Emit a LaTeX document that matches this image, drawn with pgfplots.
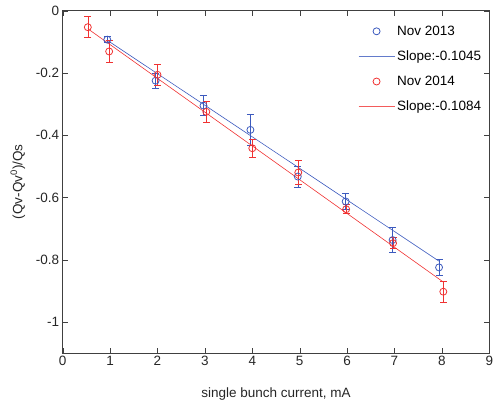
\documentclass[border=0pt]{standalone}
\usepackage{pgfplots}
\usepackage{pgfplotstable}
\pgfplotsset{compat=1.18}
\usepackage{fontspec}
\setmainfont{Liberation Sans}
\definecolor{mblue}{RGB}{60,90,190}
\definecolor{mred}{RGB}{240,50,50}
\pgfplotstableread{
x y e
0.94 -0.093 0.010
1.96 -0.225 0.025
2.97 -0.305 0.033
3.96 -0.383 0.050
4.96 -0.533 0.034
5.97 -0.613 0.025
6.96 -0.737 0.040
7.94 -0.825 0.025
}\blue
\pgfplotstableread{
x y e
0.53 -0.053 0.034
0.98 -0.131 0.034
2.00 -0.206 0.034
3.03 -0.325 0.033
4.00 -0.442 0.030
4.97 -0.520 0.038
5.98 -0.638 0.015
6.97 -0.747 0.018
8.03 -0.903 0.033
}\red
\pgfplotsset{
  markleg/.style={legend image code/.code={\draw[##1] plot coordinates {(18pt,0pt)};}},
  lineleg/.style={legend image code/.code={\draw[##1] (0pt,0pt) -- (36pt,0pt);}},
}
\begin{document}
\begin{tikzpicture}
\begin{axis}[
  scale only axis, width=426.6pt, height=342.3pt,
  at={(0,0)}, anchor=south west,
  xmin=0, xmax=9, ymin=-1.1, ymax=0,
  xtick={0,...,9}, ytick={-1,-0.8,-0.6,-0.4,-0.2,0},
  tick align=inside, major tick length=5pt,
  axis line style={black!75}, tick style={black!75},
  font=\fontsize{13.5}{15}\selectfont,
  tick label style={black!85},
  /pgf/number format/assume math mode=true,
  yticklabel style={/pgf/number format/fixed},
  xlabel={single bunch current, mA},
  ylabel={(Qv-Qv\textsuperscript{0})/Qs},
  xlabel style={at={(axis description cs:0.5,-0.121)}, anchor=center, black!85},
  ylabel style={at={(axis description cs:-0.105,0.5)}, anchor=center, black!85},
  legend style={draw=none, fill=none, at={(axis description cs:0.685,0.968)}, anchor=north west,
    font=\fontsize{13.5}{15}\selectfont, row sep=10pt},
  legend cell align=left,
]
\addplot[mblue, only marks, mark=o, mark size=3.5pt, line width=0.8pt, forget plot,
  error bars/.cd, y dir=both, y explicit,
  error mark options={rotate=90, mark size=3.5pt, line width=0.8pt, mblue}]
  table[x=x, y=y, y error=e] {\blue};
\addplot[color=mblue, line width=0.6pt, forget plot] coordinates {(0.94,-0.095) (7.94,-0.805)};
\addplot[mred, only marks, mark=o, mark size=3.5pt, line width=0.8pt, forget plot,
  error bars/.cd, y dir=both, y explicit,
  error mark options={rotate=90, mark size=3.5pt, line width=0.8pt, mred}]
  table[x=x, y=y, y error=e] {\red};
\addplot[color=mred, line width=0.6pt, forget plot] coordinates {(0.53,-0.058) (8.03,-0.872)};
\addlegendimage{mblue, only marks, mark=o, mark size=3.5pt, line width=0.8pt, markleg}
\addlegendentry{Nov 2013}
\addlegendimage{color=mblue!80, line width=0.9pt, lineleg}
\addlegendentry{Slope:-0.1045}
\addlegendimage{mred, only marks, mark=o, mark size=3.5pt, line width=0.8pt, markleg}
\addlegendentry{Nov 2014}
\addlegendimage{color=mred!80, line width=0.9pt, lineleg}
\addlegendentry{Slope:-0.1084}
\end{axis}
\pgfresetboundingbox
\path (-62.7pt,-47.7pt) rectangle (433.3pt,353pt);
\end{tikzpicture}
\end{document}
